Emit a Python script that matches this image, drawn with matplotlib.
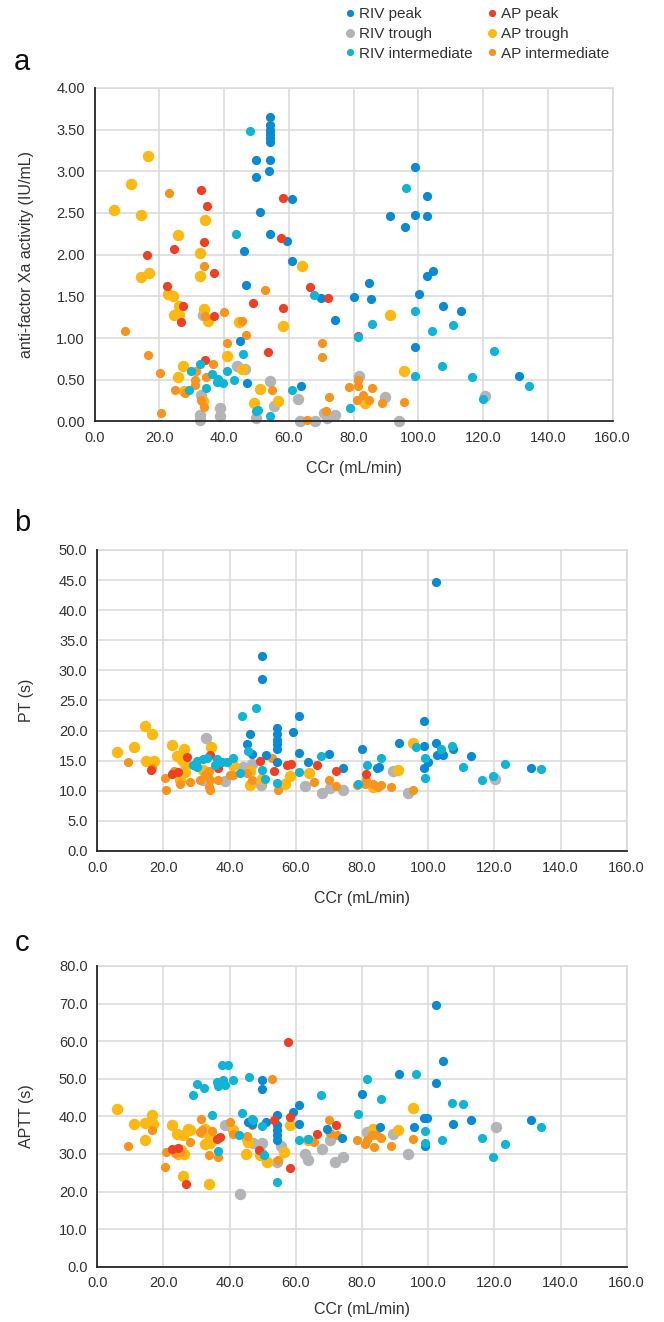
import matplotlib
matplotlib.use('Agg')
import matplotlib.pyplot as plt
from matplotlib.lines import Line2D
from matplotlib.ticker import FormatStrFormatter, MultipleLocator

plt.rcParams['font.family'] = ['Liberation Sans', 'DejaVu Sans']

# ---- panel a: anti-factor Xa activity ----
a_rivPeak_x = [54.3, 54.3, 54.3, 54.3, 54.3, 54.3, 49.8, 54.3, 49.8, 53.8, 61.0, 51.0, 54.3, 59.4, 46.0, 61.0, 46.6,
               70.0, 80.0, 74.2, 45.0, 47.0, 63.6, 98.9, 102.5, 91.3, 98.9, 102.5, 95.8, 104.6, 102.5, 84.8, 85.5,
               100.1, 107.6, 113.0, 98.9, 131.0]
a_rivPeak_y = [3.65, 3.55, 3.50, 3.45, 3.40, 3.35, 3.13, 3.13, 2.93, 3.00, 2.67, 2.51, 2.25, 2.17, 2.04, 1.92, 1.64,
               1.48, 1.49, 1.22, 0.96, 0.46, 0.43, 3.05, 2.70, 2.46, 2.47, 2.46, 2.33, 1.80, 1.74, 1.66, 1.47,
               1.53, 1.39, 1.33, 0.89, 0.55]
a_rivTrough_x = [33.6, 43.9, 46.5, 54.2, 32.9, 38.8, 38.8, 32.4, 32.4, 49.8, 55.4, 62.9, 63.5, 68.0, 70.7, 74.1,
                 71.8, 81.5, 89.6, 94.0, 120.6]
a_rivTrough_y = [1.28, 0.67, 0.63, 0.49, 0.32, 0.16, 0.06, 0.08, 0.02, 0.04, 0.18, 0.27, 0.00, 0.01, 0.10, 0.08,
                 0.04, 0.55, 0.29, 0.00, 0.30]
a_rivInter_x = [47.9, 43.6, 67.6, 45.7, 32.4, 29.9, 36.3, 41.0, 38.2, 37.7, 39.6, 43.0, 29.0, 34.4, 61.0, 49.8,
                50.6, 54.3, 78.9, 81.4, 96.3, 98.9, 85.8, 110.6, 104.1, 123.2, 107.2, 98.9, 116.5, 134.3, 119.8]
a_rivInter_y = [3.48, 2.25, 1.52, 0.81, 0.69, 0.61, 0.57, 0.61, 0.51, 0.47, 0.46, 0.50, 0.38, 0.40, 0.38, 0.13,
                0.14, 0.06, 0.16, 1.01, 2.80, 1.33, 1.17, 1.16, 1.09, 0.84, 0.66, 0.54, 0.53, 0.42, 0.27]
a_apPeak_x = [32.7, 34.8, 58.2, 57.4, 33.7, 24.4, 16.2, 37.0, 22.3, 66.4, 72.1, 49.0, 58.2, 27.3, 37.0, 26.8,
              53.5, 34.1, 81.2]
a_apPeak_y = [2.77, 2.58, 2.68, 2.20, 2.15, 2.07, 2.00, 1.78, 1.62, 1.61, 1.48, 1.42, 1.36, 1.38, 1.27, 1.19,
              0.83, 0.74, 1.02]
a_apTrough_x = [16.5, 11.1, 5.9, 14.2, 34.1, 25.6, 32.4, 64.1, 16.9, 14.4, 32.6, 22.6, 24.2, 26.1, 24.4, 26.1,
                33.7, 35.0, 44.7, 58.2, 40.9, 27.4, 25.8, 45.6, 51.1, 56.5, 49.1, 27.6, 33.6, 91.1, 95.4, 83.6]
a_apTrough_y = [3.18, 2.85, 2.53, 2.47, 2.42, 2.24, 2.02, 1.87, 1.78, 1.73, 1.74, 1.53, 1.50, 1.39, 1.28, 1.28,
                1.35, 1.20, 1.19, 1.15, 0.78, 0.67, 0.53, 0.63, 0.39, 0.25, 0.22, 0.36, 0.25, 1.28, 0.61, 0.22]
a_apInter_x = [23.1, 33.9, 52.7, 40.0, 34.0, 45.6, 46.6, 9.3, 41.0, 70.1, 70.1, 16.5, 36.5, 20.3, 31.2, 34.5,
               31.0, 31.1, 24.8, 27.9, 54.7, 32.9, 33.9, 20.5, 72.4, 71.5, 65.6, 78.7, 81.2, 81.2, 82.9, 81.0,
               84.6, 85.7, 88.7, 95.4]
a_apInter_y = [2.74, 1.86, 1.58, 1.31, 1.27, 1.20, 1.04, 1.08, 0.94, 0.94, 0.77, 0.80, 0.69, 0.58, 0.61, 0.53,
               0.50, 0.44, 0.38, 0.34, 0.38, 0.26, 0.17, 0.10, 0.29, 0.12, 0.02, 0.41, 0.50, 0.42, 0.32, 0.26,
               0.26, 0.40, 0.22, 0.23]

# ---- panel b: PT ----
b_rivPeak_x = [49.8, 49.8, 61.0, 46.1, 54.4, 54.4, 54.4, 54.4, 54.4, 59.2, 45.2, 46.7, 50.9, 54.4, 61.0, 63.6,
               70.0, 74.2, 80.0, 102.5, 98.8, 91.3, 98.8, 102.5, 104.1, 102.6, 104.6, 107.6, 112.9, 100.0, 98.8,
               85.0, 84.6, 131.0]
b_rivPeak_y = [32.4, 28.5, 22.4, 19.5, 20.5, 19.5, 18.5, 17.7, 16.9, 19.7, 17.7, 16.1, 15.9, 14.8, 16.2, 14.8,
               16.1, 13.8, 17.0, 44.7, 21.6, 17.9, 17.5, 18.0, 16.1, 15.9, 16.0, 16.9, 15.7, 14.7, 13.7,
               14.0, 13.7, 13.7]
b_rivTrough_x = [32.9, 38.6, 43.9, 46.9, 49.4, 62.8, 67.8, 70.4, 74.2, 32.1, 89.5, 94.0, 120.3]
b_rivTrough_y = [18.8, 11.6, 14.0, 14.5, 10.9, 10.8, 9.6, 10.4, 10.1, 11.8, 13.3, 9.6, 12.0]
b_rivInter_x = [47.9, 43.6, 45.7, 67.6, 61.0, 49.9, 50.6, 54.4, 29.0, 30.0, 32.1, 33.1, 36.1, 37.6, 39.1, 41.1,
                30.0, 35.6, 43.1, 96.3, 98.9, 98.9, 104.0, 107.1, 85.6, 81.4, 110.5, 116.4, 119.7, 123.2, 134.2,
                78.9]
b_rivInter_y = [23.8, 22.4, 16.6, 15.8, 13.2, 13.5, 11.9, 11.3, 14.3, 14.9, 15.2, 15.5, 15.3, 14.8, 14.7, 15.5,
                14.0, 14.2, 12.9, 17.3, 15.4, 12.2, 17.0, 17.5, 15.4, 14.2, 14.0, 11.8, 12.4, 14.5, 13.6,
                11.2]
b_apPeak_x = [27.2, 16.1, 22.5, 24.5, 34.1, 36.6, 49.2, 53.4, 57.3, 58.6, 66.5, 72.2, 81.2]
b_apPeak_y = [15.6, 13.5, 12.8, 13.2, 15.9, 13.7, 14.9, 13.3, 14.3, 14.4, 14.3, 13.3, 12.8]
b_apTrough_x = [14.4, 16.5, 6.0, 11.2, 14.7, 17.2, 22.7, 26.1, 24.0, 25.5, 26.5, 26.5, 34.3, 46.2, 46.2, 49.9,
                56.6, 58.3, 64.1, 41.1, 32.1, 33.1, 25.0, 95.3, 91.0, 83.4]
b_apTrough_y = [20.8, 19.4, 16.4, 17.3, 14.9, 14.9, 17.6, 17.0, 15.8, 15.1, 14.5, 13.2, 17.2, 13.3, 10.9, 12.0,
                11.2, 12.4, 13.0, 14.2, 13.4, 12.6, 11.8, 18.0, 13.4, 10.7]
b_apInter_x = [9.4, 16.4, 20.5, 20.7, 23.2, 25.0, 28.0, 31.0, 32.6, 33.9, 34.1, 34.1, 33.9, 36.6, 40.1, 41.1,
               45.2, 46.7, 52.7, 54.7, 65.6, 70.1, 72.1, 78.6, 81.2, 80.9, 83.4, 84.7, 85.6, 88.7, 95.3]
b_apInter_y = [14.7, 13.7, 12.1, 10.2, 13.3, 11.1, 11.5, 11.8, 12.6, 13.3, 11.8, 10.2, 10.7, 11.8, 12.6, 12.6,
               12.9, 11.8, 15.5, 10.2, 11.5, 11.8, 10.8, 10.9, 11.8, 11.1, 11.2, 10.7, 10.9, 10.6, 10.2]

# ---- panel c: APTT ----
c_rivPeak_x = [49.8, 49.8, 61.0, 59.3, 54.4, 54.4, 54.4, 54.4, 54.4, 61.0, 50.9, 46.9, 45.7, 69.4, 74.1, 102.5,
               104.4, 91.3, 102.5, 80.0, 98.7, 99.7, 107.6, 112.9, 95.7, 85.4, 98.9, 131.0]
c_rivPeak_y = [49.8, 47.2, 42.9, 41.2, 40.3, 37.6, 36.3, 35.0, 33.6, 37.9, 38.5, 38.1, 38.5, 36.7, 34.3, 69.7,
               54.7, 51.2, 48.9, 45.9, 39.6, 39.5, 38.1, 39.1, 37.3, 37.2, 32.1, 39.1]
c_rivTrough_x = [38.6, 47.2, 49.9, 49.4, 54.2, 55.4, 62.8, 63.8, 67.8, 70.4, 71.9, 74.4, 43.1, 81.4, 89.5, 94.0,
                 120.4]
c_rivTrough_y = [37.6, 33.0, 33.0, 30.3, 27.9, 32.0, 30.1, 28.3, 31.4, 33.8, 27.9, 29.2, 19.4, 35.8, 35.4, 29.9,
                 37.2]
c_rivInter_x = [37.6, 39.6, 29.0, 30.0, 32.4, 36.1, 36.6, 38.1, 38.6, 41.1, 45.9, 67.6, 43.6, 34.6, 46.7, 47.2,
                49.9, 42.9, 61.0, 63.6, 36.5, 50.4, 54.4, 96.2, 81.4, 85.7, 107.1, 110.5, 78.8, 98.9, 98.9,
                104.1, 116.4, 123.2, 134.2, 119.7]
c_rivInter_y = [53.7, 53.7, 45.8, 48.5, 47.6, 49.1, 48.0, 49.7, 48.4, 49.8, 50.4, 45.8, 40.9, 40.4, 39.4, 38.9,
                37.4, 35.0, 33.8, 34.0, 30.8, 29.7, 22.5, 51.2, 49.9, 44.7, 43.5, 43.2, 40.7, 36.0, 33.0,
                33.8, 34.3, 32.7, 37.3, 29.2]
c_apPeak_x = [57.6, 58.3, 53.4, 72.2, 66.5, 37.1, 36.1, 48.9, 22.5, 24.5, 58.1, 26.8]
c_apPeak_y = [59.8, 39.8, 38.9, 37.8, 35.2, 34.5, 34.1, 31.0, 31.3, 31.6, 26.2, 22.0]
c_apTrough_x = [6.0, 16.4, 16.9, 14.4, 11.2, 14.3, 22.7, 24.0, 26.0, 27.5, 28.0, 24.5, 26.3, 25.2, 25.9, 33.9,
                32.6, 34.1, 32.6, 31.6, 44.9, 45.7, 45.2, 41.1, 49.2, 51.2, 56.3, 58.3, 63.8, 34.1, 95.3, 91.0,
                83.4]
c_apTrough_y = [41.9, 40.3, 38.1, 38.2, 37.9, 33.6, 37.6, 35.4, 35.0, 36.7, 36.3, 30.1, 29.9, 31.0, 24.1, 21.9,
                32.7, 32.9, 36.7, 35.8, 30.1, 33.2, 34.1, 36.3, 29.6, 27.8, 30.4, 37.8, 33.6, 34.5, 42.2, 36.3,
                36.7]
c_apInter_x = [9.4, 16.5, 20.5, 20.7, 23.5, 25.0, 28.0, 31.4, 31.0, 31.6, 34.6, 33.8, 36.6, 40.1, 40.9, 45.4,
               46.7, 52.7, 54.7, 65.6, 70.1, 70.4, 72.4, 78.6, 80.9, 81.4, 82.9, 84.4, 85.6, 83.7, 88.7, 95.3]
c_apInter_y = [32.0, 36.5, 26.4, 30.5, 30.3, 30.5, 33.1, 39.4, 35.8, 36.3, 36.0, 29.6, 29.2, 38.5, 35.2, 34.9,
               37.6, 49.9, 28.3, 33.1, 38.9, 35.7, 35.0, 33.6, 32.7, 33.6, 35.0, 35.0, 34.3, 31.8, 32.0, 34.0]

seriesNames = ['RIV peak', 'RIV trough', 'RIV intermediate', 'AP peak', 'AP trough', 'AP intermediate']
seriesColors = ['#0A8AD2', '#B3B4B8', '#12B4D6', '#EE4023', '#FDB913', '#F7941D']
seriesSizes = [44, 68, 44, 44, 68, 44]
# drawing order (bottom -> top)
drawOrder = [1, 4, 5, 0, 3, 2]

textColor = '#333333'
gridColor = '#D9D9D9'

fig = plt.figure(figsize=(6.64, 13.22), dpi=100)

panels = [
    dict(rect=[0.1426, 0.6812, 0.7801, 0.2523], ymax=4.0, ystep=0.5, yfmt='%.2f',
         ylabel='anti-factor Xa activity (IU/mL)', letter='a', letterY=62, xlabelY=-0.118,
         xs=[a_rivPeak_x, a_rivTrough_x, a_rivInter_x, a_apPeak_x, a_apTrough_x, a_apInter_x],
         ys=[a_rivPeak_y, a_rivTrough_y, a_rivInter_y, a_apPeak_y, a_apTrough_y, a_apInter_y]),
    dict(rect=[0.1465, 0.3563, 0.7973, 0.2277], ymax=50.0, ystep=5.0, yfmt='%.1f',
         ylabel='PT (s)', letter='b', letterY=523, xlabelY=-0.132,
         xs=[b_rivPeak_x, b_rivTrough_x, b_rivInter_x, b_apPeak_x, b_apTrough_x, b_apInter_x],
         ys=[b_rivPeak_y, b_rivTrough_y, b_rivInter_y, b_apPeak_y, b_apTrough_y, b_apInter_y]),
    dict(rect=[0.1465, 0.0418, 0.7973, 0.2275], ymax=80.0, ystep=10.0, yfmt='%.1f',
         ylabel='APTT (s)', letter='c', letterY=943, xlabelY=-0.118,
         xs=[c_rivPeak_x, c_rivTrough_x, c_rivInter_x, c_apPeak_x, c_apTrough_x, c_apInter_x],
         ys=[c_rivPeak_y, c_rivTrough_y, c_rivInter_y, c_apPeak_y, c_apTrough_y, c_apInter_y]),
]

for p in panels:
    ax = fig.add_axes(p['rect'])
    for z, i in enumerate(drawOrder):
        ax.scatter(p['xs'][i], p['ys'][i], s=seriesSizes[i], color=seriesColors[i],
                   linewidths=0, zorder=3 + z, clip_on=False)
    ax.set_xlim(0, 160)
    ax.set_ylim(0, p['ymax'])
    ax.xaxis.set_major_locator(MultipleLocator(20))
    ax.yaxis.set_major_locator(MultipleLocator(p['ystep']))
    ax.xaxis.set_major_formatter(FormatStrFormatter('%.1f'))
    ax.yaxis.set_major_formatter(FormatStrFormatter(p['yfmt']))
    ax.grid(True, color=gridColor, linewidth=1.1, zorder=0)
    ax.set_axisbelow(True)
    for side in ['top', 'right']:
        ax.spines[side].set_color(gridColor)
        ax.spines[side].set_linewidth(1.1)
    for side in ['left', 'bottom']:
        ax.spines[side].set_color('#262626')
        ax.spines[side].set_linewidth(1.3)
        ax.spines[side].set_zorder(20)
    ax.tick_params(length=0, labelsize=10.5, labelcolor=textColor, pad=7)
    ax.set_xlabel('CCr (mL/min)', fontsize=11.5, color=textColor)
    ax.set_ylabel(p['ylabel'], fontsize=11.5, color=textColor)
    ax.xaxis.set_label_coords(0.5, p['xlabelY'])
    ax.yaxis.set_label_coords((34 - p['rect'][0] * 664) / (p['rect'][2] * 664), 0.5)
    fig.text(22 / 664, 1 - p['letterY'] / 1322, p['letter'], fontsize=21, color='#111111',
             ha='center', va='center')

handles = [Line2D([], [], linestyle='none', marker='o', markersize=(6.5 if i in (1, 4) else 5.2),
                  markerfacecolor=seriesColors[i], markeredgewidth=0) for i in range(6)]
fig.legend(handles, seriesNames, ncol=2, loc='upper left', bbox_to_anchor=(0.518, 0.9944),
           frameon=False, fontsize=11, handlelength=0.8, handletextpad=0.2, columnspacing=0.85,
           labelspacing=0.37, borderpad=0, borderaxespad=0, labelcolor=textColor)

plt.savefig('out.png', dpi=100)
